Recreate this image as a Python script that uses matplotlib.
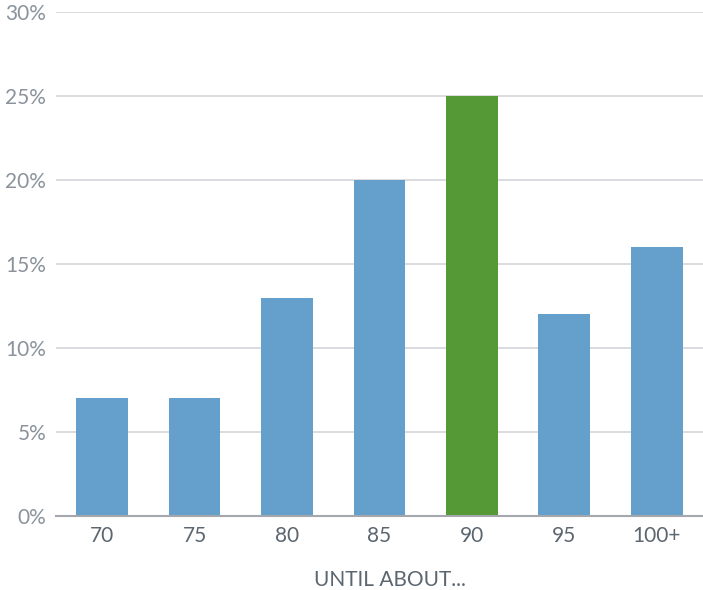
import matplotlib.pyplot as plt

# share of respondents by expected age
ages = ['70', '75', '80', '85', '90', '95', '100+']
share = [7, 7, 13, 20, 25, 12, 16]
highlight = '90'

blue = '#64a0cb'
green = '#559836'
colors = [green if a == highlight else blue for a in ages]

plt.rcParams['font.family'] = ['Lato', 'DejaVu Sans']

fig = plt.figure(figsize=(7.03, 5.90), dpi=100)
ax = fig.add_axes([0.0796, 0.1254, 0.9204, 0.8543])

x = range(len(ages))
ax.bar(x, share, width=0.56, color=colors, zorder=3)

ax.set_xlim(-0.5, len(ages) - 0.5)
ax.set_ylim(0, 30)
ax.set_yticks(range(0, 31, 5))
ax.set_yticklabels([f'{v}%' for v in range(0, 31, 5)])
ax.set_xticks(list(x))
ax.set_xticklabels(ages)

ax.grid(axis='y', color='#d3d6d9', linewidth=1.2, zorder=0)
for s in ['top', 'right', 'left']:
    ax.spines[s].set_visible(False)
ax.spines['bottom'].set_color('#a4a8ac')
ax.spines['bottom'].set_linewidth(1.5)
ax.spines['bottom'].set_zorder(4)

ax.tick_params(axis='y', length=0, pad=7, labelsize=15, labelcolor='#8a939c')
ax.tick_params(axis='x', length=0, pad=7, labelsize=15, labelcolor='#5b6670')

fig.text(0.555, 0.017, 'UNTIL ABOUT...', fontsize=15, color='#5b6670',
         ha='center', va='center')

fig.savefig('out.png', dpi=100)
